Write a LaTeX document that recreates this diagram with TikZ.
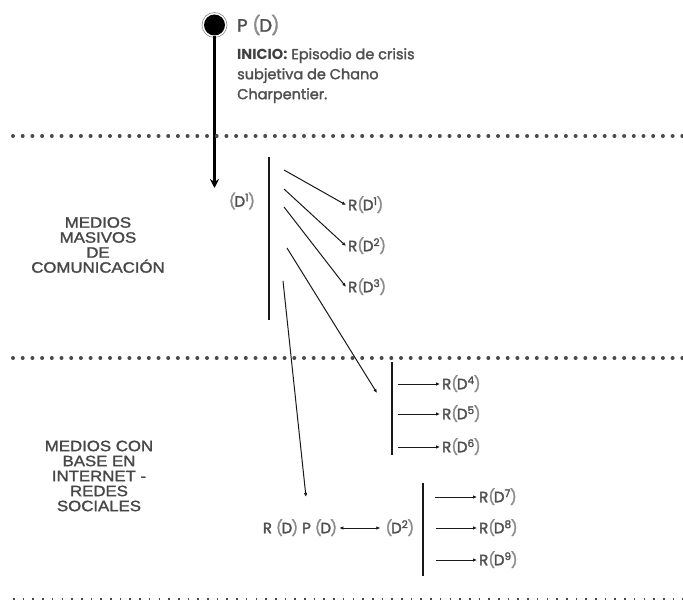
\documentclass[tikz,border=0pt]{standalone}
\usepackage{fontspec}
\setmainfont{Poppins}
\newfontfamily\labfont{Poppins}[FakeBold=2]
\newfontfamily\grotesk{Liberation Sans}[FakeStretch=1.12,FakeBold=1.6]
\usetikzlibrary{positioning,arrows.meta}
\definecolor{txtgray}{HTML}{505050}
\definecolor{pargray}{HTML}{8C8C8C}
\definecolor{dotgray}{HTML}{4A4A4A}
\tikzstyle{arrow} = [-{Latex[length=4pt,width=3.5pt]},line width=1pt,black!90]
\tikzstyle{bigarrow} = [-{Stealth[length=9pt,width=9pt]},line width=2.4pt,black]
\tikzstyle{twoway} = [{Latex[length=4pt,width=3.5pt]}-{Latex[length=4pt,width=3.5pt]},line width=1pt,black!90]
\tikzstyle{bar} = [line width=1.2pt,black!90]
\tikzstyle{dotline} = [dotgray,line width=4pt,line cap=round,dash pattern=on 0pt off 9.7pt]
\tikzstyle{thindots} = [dotgray,line width=2pt,dash pattern=on 1.6pt off 8.1pt]
\tikzstyle{rlabel} = [text=txtgray,font=\labfont\fontsize{15}{17}\selectfont,inner sep=2pt,anchor=west,text height=10.5pt,text depth=0pt]
\tikzstyle{medios} = [text=black!72,font=\grotesk\fontsize{15}{15}\selectfont,align=center]
\newcommand{\lp}{{\color{pargray}(}\kern-1.2pt}% lighter parentheses
\newcommand{\rp}{\kern-0.8pt{\color{pargray})}}
\newcommand{\rd}[1]{R\lp D\textsuperscript{#1}\rp}

\begin{document}
\begin{tikzpicture}[x=1pt,y=-1pt]
		\useasboundingbox (0,0) rectangle (683,602);
		
		\node (ring) [circle,draw=black!45,line width=0.6pt,minimum size=25pt,inner sep=0] at (214.5,25) {};
		\node (start) [circle,fill=black,minimum size=21pt,inner sep=0] at (214.5,25) {};
		\node (pd-top) [text=txtgray,font=\labfont\fontsize{18}{20}\selectfont,anchor=west,inner sep=0] at (237,25) {P \lp D\rp};
		\node (inicio) [text=txtgray,font=\labfont\fontsize{14.5}{20}\selectfont,anchor=north west,align=left,inner sep=0] at (237,48)
			{{\rmfamily\bfseries\color{black!75}INICIO:} Episodio de crisis\\subjetiva de Chano\\Charpentier.};
		
		\coordinate (tip) at (214.5,188);
		\draw [bigarrow] (start.south) -- (tip);
		
		% separators
		\draw [dotline] (13,136) -- (683,136);
		\draw [dotline] (13,358) -- (683,358);
		\draw [thindots] (13,599) -- (683,599);
		
		\node (masivos) [medios] at (98,245) {MEDIOS\\MASIVOS\\DE\\COMUNICACIÓN};
		\node (internet) [medios] at (99,476) {MEDIOS CON\\BASE EN\\INTERNET -\\REDES\\SOCIALES};
		
		% first medium
		\node (d1) [text=txtgray,font=\labfont\fontsize{15}{17}\selectfont] at (242,201) {\lp D\textsuperscript{1}\rp};
		\draw [bar] (269,157) coordinate (bar1-top) -- (269,320) coordinate (bar1-bot);
		\node (rd1) [rlabel] at (346,205) {\rd{1}};
		\node (rd2) [rlabel] at (346,246) {\rd{2}};
		\node (rd3) [rlabel] at (346,287) {\rd{3}};
		\coordinate (s1) at (284,170);
		\coordinate (s2) at (284,189);
		\coordinate (s3) at (284,207);
		\coordinate (s4) at (287,248);
		\coordinate (s5) at (283,281);
		\coordinate (t4) at (377,393);
		\coordinate (t5) at (306,497);
		\draw [arrow] (s1) -- (rd1.west);
		\draw [arrow] (s2) -- (rd2.west);
		\draw [arrow] (s3) -- (rd3.west);
		\draw [arrow] (s4) -- (t4);
		\draw [arrow] (s5) -- (t5);
		
		% second group
		\draw [bar] (392,362) coordinate (bar2-top) -- (392,455) coordinate (bar2-bot);
		\node (rd4) [rlabel] at (440,384) {\rd{4}};
		\node (rd5) [rlabel] at (440,414) {\rd{5}};
		\node (rd6) [rlabel] at (440,447) {\rd{6}};
		\draw [arrow] (398,384) coordinate (a4) -- (rd4.west);
		\draw [arrow] (398,414) coordinate (a5) -- (rd5.west);
		\draw [arrow] (398,447) coordinate (a6) -- (rd6.west);
		
		% internet row
		\node (rdpd) [text=txtgray,font=\labfont\fontsize{15}{17}\selectfont,inner sep=2pt,text height=10.5pt,text depth=0pt] at (300,528) {R \lp D\rp\ P \lp D\rp};
		\node (d2) [text=txtgray,font=\labfont\fontsize{15}{17}\selectfont,inner sep=2pt,text height=10.5pt,text depth=0pt,right=44 of rdpd] {\lp D\textsuperscript{2}\rp};
		\draw [twoway,shorten >=3pt] (rdpd.east) -- (d2.west);
		\draw [bar] (423,483) coordinate (bar3-top) -- (423,576) coordinate (bar3-bot);
		\node (rd7) [rlabel] at (477,497) {\rd{7}};
		\node (rd8) [rlabel] at (477,528) {\rd{8}};
		\node (rd9) [rlabel] at (477,560) {\rd{9}};
		\draw [arrow] (435,497) coordinate (a7) -- (rd7.west);
		\draw [arrow] (436,528) coordinate (a8) -- (rd8.west);
		\draw [arrow] (436,560) coordinate (a9) -- (rd9.west);
	
	\end{tikzpicture}
\end{document}
